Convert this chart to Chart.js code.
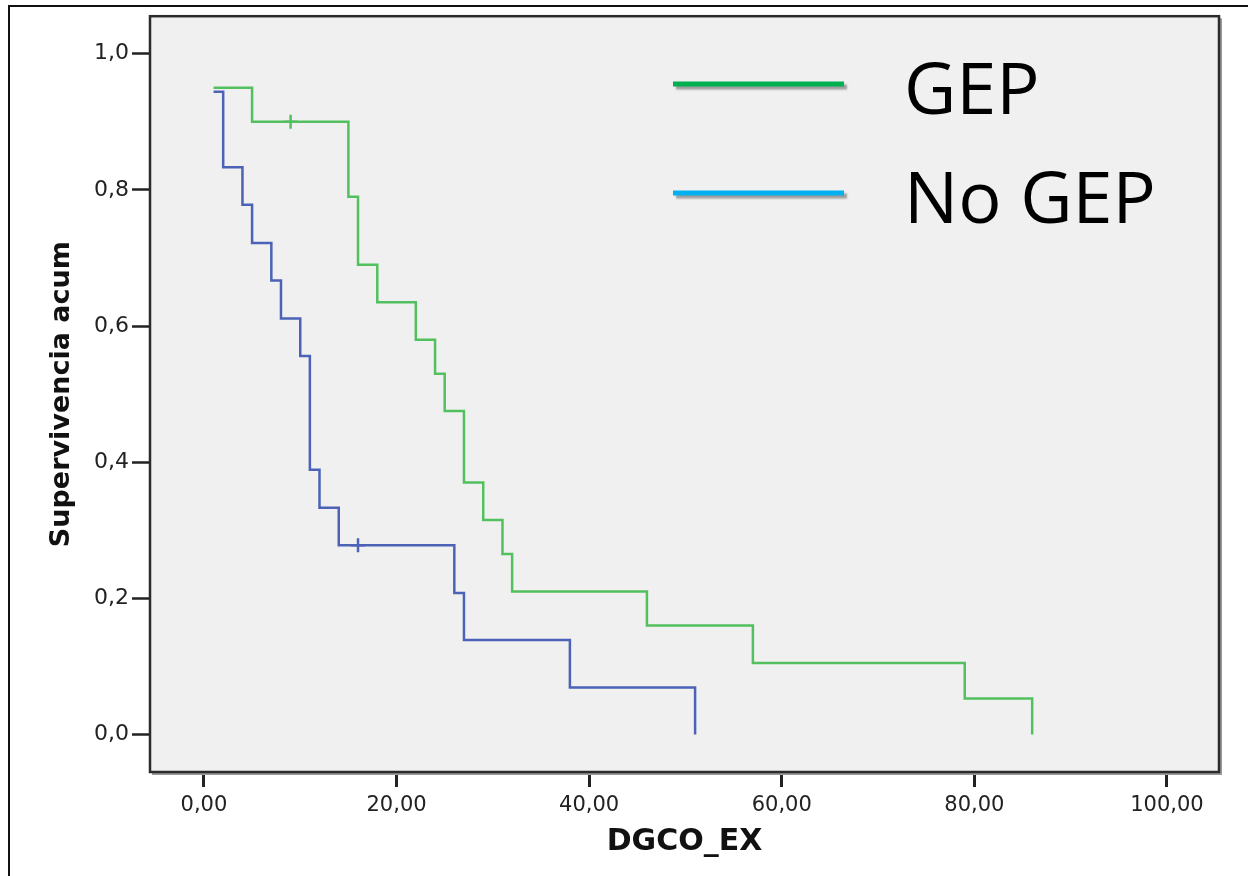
<!DOCTYPE html>
<html>
<head>
<meta charset="utf-8">
<script src="https://cdn.jsdelivr.net/npm/chart.js@4.4.0/dist/chart.umd.min.js"></script>
<style>
  body { margin: 0; background: #fff; }
  canvas { display: block; }
</style>
</head>
<body>
<canvas id="km" width="1248" height="876"></canvas>
<script>
// Kaplan-Meier steps (time, cumulative survival)
const gepTimes = [1, 5, 15, 16, 18, 22, 24, 25, 27, 29, 31, 32, 46, 57, 79, 86];
const gepSurv = [0.95, 0.90, 0.79, 0.69, 0.635, 0.58, 0.53, 0.475, 0.37, 0.315, 0.265, 0.21, 0.16, 0.105, 0.053, 0.0];
const noGepTimes = [1, 2, 4, 5, 7, 8, 10, 11, 12, 14, 26, 27, 38, 51];
const noGepSurv = [0.944, 0.833, 0.778, 0.722, 0.667, 0.611, 0.556, 0.389, 0.333, 0.278, 0.208, 0.139, 0.069, 0.0];
// censored cases (+)
const gepCensTimes = [9];
const gepCensSurv = [0.90];
const noGepCensTimes = [16];
const noGepCensSurv = [0.278];

const seriesNames = ['GEP', 'No GEP'];
const lineColors = ['#52c05e', '#4b62b6'];
const legendColors = ['#00b050', '#00b0f0'];

const xTicks = [0, 20, 40, 60, 80, 100];
const xTickLabels = ['0,00', '20,00', '40,00', '60,00', '80,00', '100,00'];
const yTicks = [0, 0.2, 0.4, 0.6, 0.8, 1.0];
const yTickLabels = ['0,0', '0,2', '0,4', '0,6', '0,8', '1,0'];

const toPts = (xs, ys) => xs.map((x, i) => ({x: x, y: ys[i]}));

const frame = {
  id: 'frame',
  beforeDraw(chart) {
    const {ctx, chartArea: a} = chart;
    ctx.save();
    ctx.fillStyle = '#fff';
    ctx.fillRect(0, 0, chart.width, chart.height);
    ctx.strokeStyle = '#111';
    ctx.lineWidth = 2;
    ctx.beginPath();
    ctx.moveTo(9, chart.height);
    ctx.lineTo(9, 6);
    ctx.lineTo(chart.width, 6);
    ctx.stroke();
    ctx.fillStyle = '#f0f0f0';
    ctx.fillRect(a.left, a.top, a.right - a.left, a.bottom - a.top);
    ctx.restore();
  },
  afterDraw(chart) {
    const {ctx, chartArea: a} = chart;
    ctx.save();
    // plot box, with a soft grey edge on the right/bottom
    ctx.strokeStyle = '#9a9a9a';
    ctx.lineWidth = 2;
    ctx.beginPath();
    ctx.moveTo(a.right + 2, a.top + 2);
    ctx.lineTo(a.right + 2, a.bottom + 2);
    ctx.lineTo(a.left + 2, a.bottom + 2);
    ctx.stroke();
    ctx.strokeStyle = '#2b2b2b';
    ctx.lineWidth = 2.5;
    ctx.strokeRect(a.left, a.top, a.right - a.left, a.bottom - a.top);

    // legend pasted in the upper right of the plot
    const rows = [84, 193];
    seriesNames.forEach((name, i) => {
      const y = rows[i];
      ctx.save();
      ctx.shadowColor = 'rgba(0,0,0,0.35)';
      ctx.shadowOffsetX = 3;
      ctx.shadowOffsetY = 3;
      ctx.shadowBlur = 2;
      ctx.fillStyle = legendColors[i];
      ctx.fillRect(673, y - 2.5, 171, 5);
      ctx.restore();
      ctx.fillStyle = '#000';
      ctx.font = '72px "Open Sans"';
      ctx.textBaseline = 'alphabetic';
      ctx.textAlign = 'left';
      ctx.fillText(name, 904, y + 30);
    });
    ctx.restore();
  }
};

new Chart(document.getElementById('km'), {
  type: 'line',
  data: {
    datasets: [
      {
        label: seriesNames[0],
        data: toPts(gepTimes, gepSurv),
        borderColor: lineColors[0],
        borderWidth: 2.5,
        stepped: 'before',
        pointRadius: 0,
        fill: false,
      },
      {
        label: seriesNames[1],
        data: toPts(noGepTimes, noGepSurv),
        borderColor: lineColors[1],
        borderWidth: 2.5,
        stepped: 'before',
        pointRadius: 0,
        fill: false,
      },
      {
        label: seriesNames[0] + ' censurado',
        data: toPts(gepCensTimes, gepCensSurv),
        showLine: false,
        pointStyle: 'cross',
        pointRadius: 7,
        borderWidth: 2.5,
        borderColor: lineColors[0],
      },
      {
        label: seriesNames[1] + ' censurado',
        data: toPts(noGepCensTimes, noGepCensSurv),
        showLine: false,
        pointStyle: 'cross',
        pointRadius: 7,
        borderWidth: 2.5,
        borderColor: lineColors[1],
      }
    ]
  },
  options: {
    responsive: false,
    animation: false,
    layout: {
      padding: {left: 0, top: 14, right: 29, bottom: 0}
    },
    plugins: {
      legend: {display: false},
      tooltip: {enabled: false}
    },
    scales: {
      x: {
        type: 'linear',
        min: -5.6,
        max: 105.4,
        afterBuildTicks: (s) => { s.ticks = xTicks.map(v => ({value: v})); },
        afterFit: (s) => { s.height = 104; },
        ticks: {
          callback: (v, i) => xTickLabels[i],
          color: '#222',
          font: {family: 'DejaVu Sans', size: 21},
          padding: 6,
          maxRotation: 0,
          autoSkip: false
        },
        grid: {
          drawOnChartArea: false,
          drawTicks: true,
          tickLength: 15,
          tickWidth: 3,
          tickColor: '#222'
        },
        border: {display: false},
        title: {
          display: true,
          text: 'DGCO_EX',
          color: '#111',
          font: {family: 'DejaVu Sans', size: 30, weight: 'bold'},
          padding: {top: 0, bottom: 16}
        }
      },
      y: {
        type: 'linear',
        min: -0.055,
        max: 1.055,
        afterBuildTicks: (s) => { s.ticks = yTicks.map(v => ({value: v})); },
        afterFit: (s) => { s.width = 150; },
        ticks: {
          callback: (v, i) => yTickLabels[i],
          color: '#222',
          font: {family: 'DejaVu Sans', size: 22},
          padding: 3,
          autoSkip: false
        },
        grid: {
          drawOnChartArea: false,
          drawTicks: true,
          tickLength: 18,
          tickWidth: 2.5,
          tickColor: '#222'
        },
        border: {display: false},
        title: {
          display: true,
          text: 'Supervivencia acum',
          color: '#111',
          font: {family: 'DejaVu Sans', size: 27, weight: 'bold'},
          padding: {top: 46, bottom: 0}
        }
      }
    }
  },
  plugins: [frame]
});
</script>
</body>
</html>
